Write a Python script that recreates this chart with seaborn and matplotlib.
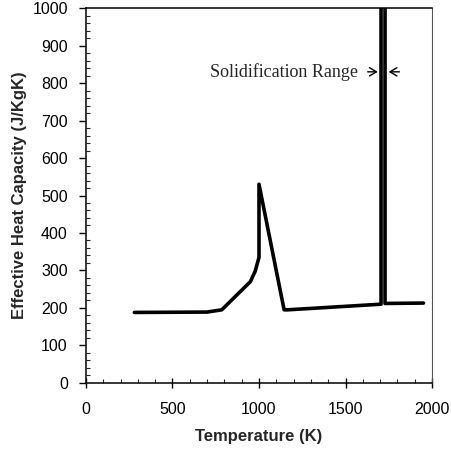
import numpy as np
import pandas as pd
import matplotlib
matplotlib.use("Agg")
import matplotlib.pyplot as plt
import seaborn as sns

# Data
temperature = [280, 700, 785, 950, 978, 1000, 1000, 1145, 1165, 1705, 1705, 1728, 1728, 1950]
heat_capacity = [188, 189, 195, 270, 298, 335, 530, 195, 195, 210, 1100, 1100, 212, 213]

x_ticks = [0, 500, 1000, 1500, 2000]
y_ticks = [0, 100, 200, 300, 400, 500, 600, 700, 800, 900, 1000]

df = pd.DataFrame({"Temperature": temperature, "Cp": heat_capacity})

sns.set_style("ticks")
plt.rcParams["font.family"] = ["Liberation Sans", "DejaVu Sans"]

fig = plt.figure(figsize=(4.52, 4.51), dpi=100)
ax = fig.add_axes([0.190, 0.151, 0.766, 0.831])

sns.lineplot(data=df, x="Temperature", y="Cp", sort=False, estimator=None,
             color="black", linewidth=2.6, ax=ax)

ax.set_xlim(0, 2000)
ax.set_ylim(0, 1000)
ax.set_xticks(x_ticks)
ax.set_yticks(y_ticks)
ax.set_xticks(np.arange(0, 2001, 100), minor=True)
ax.set_yticks(np.arange(0, 1001, 20), minor=True)
ax.tick_params(axis="x", which="major", bottom=True, direction="inout", length=7, width=1,
               labelsize=11.5, pad=10, colors="black")
ax.tick_params(axis="x", which="minor", bottom=True, direction="in", length=3, width=0.8)
ax.tick_params(axis="y", which="major", left=True, direction="out", length=5, width=1,
               labelsize=11.5, pad=8, colors="black")
ax.tick_params(axis="y", which="minor", left=True, direction="in", length=3, width=0.8)

for side in ["left", "bottom", "top"]:
    ax.spines[side].set_visible(True)
    ax.spines[side].set_color("black")
    ax.spines[side].set_linewidth(1.1)
ax.spines["right"].set_visible(True)
ax.spines["right"].set_color("#555555")
ax.spines["right"].set_linewidth(0.8)

ax.set_xlabel("Temperature (K)", fontsize=12, fontweight="bold", labelpad=9)
ax.set_ylabel("Effective Heat Capacity (J/KgK)", fontsize=12, fontweight="bold", labelpad=4)

# Solidification range annotation
ax.text(1572, 830, "Solidification Range", family="Liberation Serif", fontsize=13,
        ha="right", va="center")
ax.annotate("", xy=(1702, 830), xytext=(1612, 830),
            arrowprops=dict(arrowstyle="->,head_length=0.5,head_width=0.3", lw=1, color="black"))
ax.annotate("", xy=(1733, 830), xytext=(1827, 830),
            arrowprops=dict(arrowstyle="->,head_length=0.5,head_width=0.3", lw=1, color="black"))

fig.savefig("out.png", dpi=100)
